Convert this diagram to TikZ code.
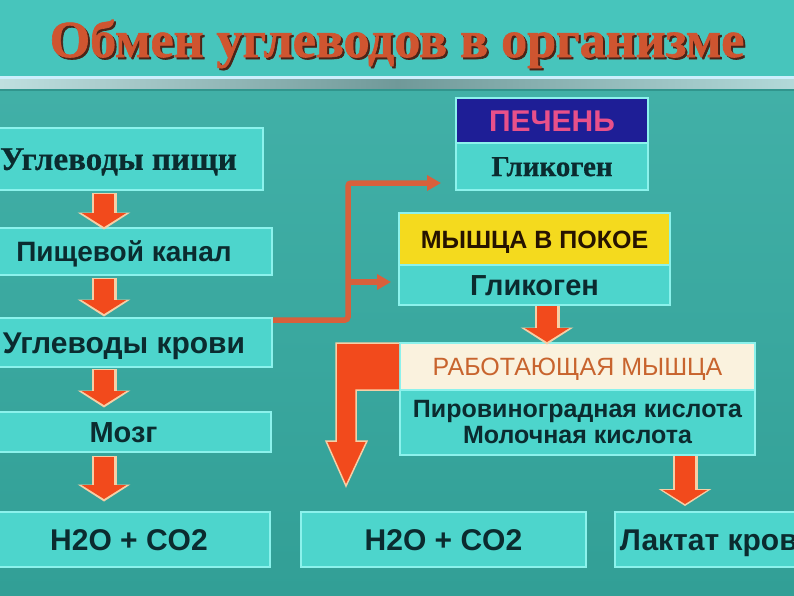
\documentclass[tikz,border=0pt]{standalone}
\usepackage{fontspec}
\setmainfont{Liberation Serif}
\newfontfamily\sansf{Liberation Sans}
\newfontfamily\titlef[FakeBold=1.2]{Liberation Serif Bold}
\newfontfamily\serfb[FakeBold=0.6]{Liberation Serif Bold}
\usetikzlibrary{arrows.meta}
\newcommand\fsz[1]{\fontsize{#1}{#1}\selectfont}
\definecolor{bgmain}{HTML}{3AAFA6}
\definecolor{bgtop}{HTML}{47C5BC}
\definecolor{bgbot}{HTML}{329F96}
\definecolor{boxfill}{HTML}{4DD5CC}
\definecolor{boxedge}{HTML}{8CF2EC}
\definecolor{txt}{HTML}{0B2B2F}
\definecolor{liverblue}{HTML}{1E1E96}
\definecolor{pinktxt}{HTML}{E8508A}
\definecolor{yellowbox}{HTML}{F4DA1E}
\definecolor{creambox}{HTML}{FAF2DE}
\definecolor{orangetxt}{HTML}{C8642E}
\definecolor{arrred}{HTML}{F24A1C}
\definecolor{glow}{HTML}{F6CFA6}
\definecolor{conncol}{HTML}{D8603C}
\definecolor{titlec}{HTML}{CF5530}
\definecolor{titlesh}{HTML}{4A2418}
\begin{document}
\begin{tikzpicture}[x=1pt,y=-1pt,
  box/.style={draw=boxedge, line width=2pt, fill=boxfill, inner sep=0pt, text=txt},
  sanstxt/.style={font=\sansf\bfseries\fsz{#1}, text height={0.72*#1pt}, text depth=0pt},
  sansreg/.style={font=\sansf\fsz{#1}, text height={0.72*#1pt}, text depth=0pt},
  serftxt/.style={font=\serfb\fsz{#1}, text height={0.66*#1pt}, text depth=0pt},
  glowarrow/.style={line width=25pt, draw=glow, -{Triangle[width=52pt,length=17pt]}},
  redarrow/.style={line width=20pt, draw=arrred, -{Triangle[width=44pt,length=14pt]}},
  conn/.style={line width=5.5pt, draw=conncol, rounded corners=3pt},
  conntip/.style={-{Triangle[width=15pt,length=14pt]}}
]
\useasboundingbox (0,0) rectangle (794,595);
\clip (0,0) rectangle (794,595);
% background
\shade[top color=bgmain!95!white, bottom color=bgbot] (0,0) rectangle (794,595);
\fill[bgtop] (0,0) rectangle (794,76);
\fill[white!80!cyan] (0,75.5) rectangle (794,79);
\shade[left color=white!75!teal, right color=white!70!teal, middle color=teal!40!gray!80!white] (0,79) rectangle (794,89);
\fill[bgmain!85!black] (0,89) rectangle (794,91);

% title
\node[font=\titlef\fsz{52}, text=titlesh, anchor=base] (titlesh) at (399,59) {Обмен углеводов в организме};
\node[font=\titlef\fsz{52}, text=titlec, anchor=base] (title) at (397,57) {Обмен углеводов в организме};

% left column
\node[box, minimum width=289pt, minimum height=62pt, serftxt=33] (b1) at (118.5,159) {Углеводы пищи};
\node[box, minimum width=296pt, minimum height=47pt, sanstxt=28] (b2) at (124,251.5) {Пищевой канал};
\node[box, minimum width=296pt, minimum height=49pt, sanstxt=30] (b3) at (124,342.5) {Углеводы крови};
\node[box, minimum width=295pt, minimum height=40pt, sanstxt=29] (b4) at (123.5,432) {Мозг};
\node[box, minimum width=282pt, minimum height=55pt, sanstxt=30] (b5) at (129,539.5) {H2O + CO2};
\node[box, minimum width=285pt, minimum height=55pt, sanstxt=30] (b6) at (443.5,539.5) {H2O + CO2};
\node[box, minimum width=206pt, minimum height=55pt, sanstxt=30] (b7) at (718,539.5) {Лактат крови};

% liver
\node[box, fill=liverblue, minimum width=192pt, minimum height=45pt, sanstxt=30, text=pinktxt] (lh) at (552,120.5) {ПЕЧЕНЬ};
\node[box, minimum width=192pt, minimum height=47pt, serftxt=29] (lb) at (552,166.5) {Гликоген};
% muscle at rest
\node[box, fill=yellowbox, minimum width=271pt, minimum height=52pt, sanstxt=25, text=black!85!orange] (mh) at (534.5,239) {МЫШЦА В ПОКОЕ};
\node[box, minimum width=271pt, minimum height=40pt, sanstxt=29] (mb) at (534.5,285) {Гликоген};
% working muscle
\node[box, fill=creambox, minimum width=355pt, minimum height=47pt, sansreg=25, text=orangetxt] (wh) at (577.5,366.5) {РАБОТАЮЩАЯ МЫШЦА};
\node[box, minimum width=355pt, minimum height=65pt, font=\sansf\bfseries\fsz{25}, align=center] (wb) at (577.5,422.5) {Пировиноградная кислота\\[1pt]Молочная кислота};

% small arrows (start/end gaps per pair)
\coordinate (ax) at (104,0);
\coordinate (mx) at (547,0);
\coordinate (rx) at (685,0);
\foreach \a/\b/\s/\e in {b1/b2/2/0,b2/b3/2/3,b3/b4/1/6,b4/b5/3/12}{
  \draw[glowarrow, shorten <=\s pt, shorten >=\e pt-2.5pt] (\a.south -| ax) -- (\b.north -| ax);
  \draw[redarrow, shorten <=\s pt+1pt, shorten >=\e pt] (\a.south -| ax) -- (\b.north -| ax);
}
\draw[glowarrow, shorten >=-2.5pt] (mb.south -| mx) -- (wh.north -| mx);
\draw[redarrow] (mb.south -| mx) -- (wh.north -| mx);
\draw[glowarrow, shorten >=5pt] (wb.south -| rx) -- (b7.north -| rx);
\draw[redarrow, shorten >=7pt] (wb.south -| rx) -- (b7.north -| rx);

% big L arrow from working muscle
\filldraw[fill=arrred, draw=glow, line width=1.5pt, line join=miter]
  ([yshift=-1pt]wh.north west) -- ++(-63,0) -- ++(0,98) -- ++(-10,0) -- ++(20,45)
  -- ++(21,-45) -- ++(-11,0) -- ++(0,-51) -- ([yshift=1pt]wh.south west);

% orange connector
\coordinate (bend) at (348,183);
\coordinate (lvtip) at (441,183);
\coordinate (brs) at (348,282);
\coordinate (mtip) at (391,282);
\draw[conn, conntip] ([yshift=-3pt]b3.north east) -| (bend) -- (lvtip);
\draw[conn, conntip] (brs) -- (mtip);
\end{tikzpicture}
\end{document}
